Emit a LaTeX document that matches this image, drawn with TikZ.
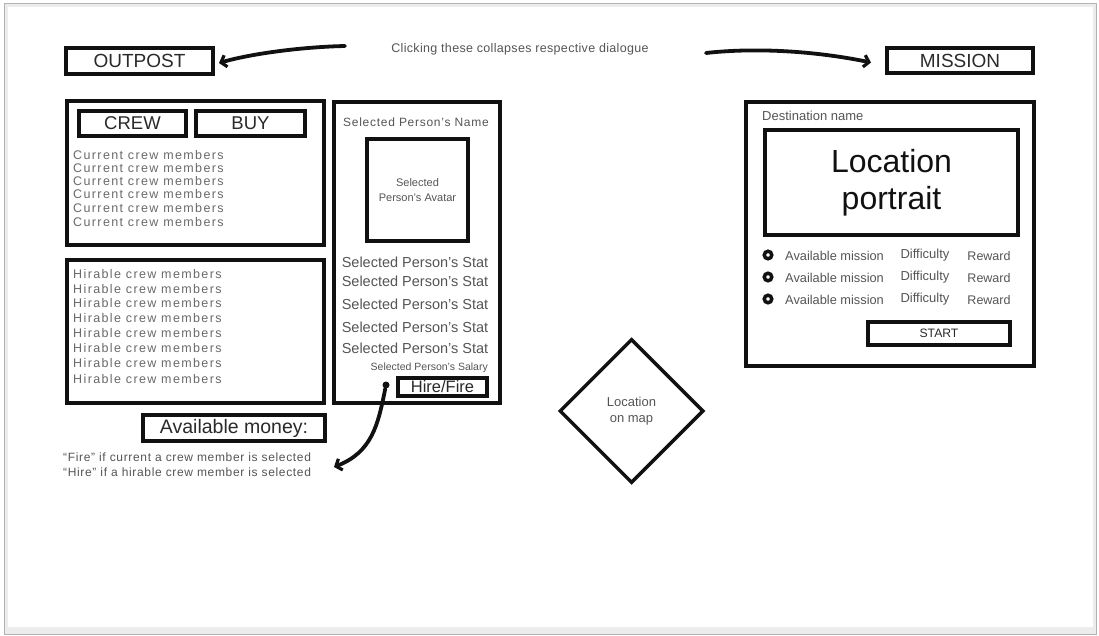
\documentclass[tikz,border=0pt]{standalone}
\usepackage{fontspec}
\setmainfont{Liberation Sans}
\newfontfamily\wideface[LetterSpace=11]{Liberation Sans}
\newfontfamily\looseface[LetterSpace=6]{Liberation Sans}
\newfontfamily\noteface[LetterSpace=5.5]{Liberation Sans}
\newfontfamily\hintface[LetterSpace=2.6]{Liberation Sans}
\usetikzlibrary{arrows.meta,shapes.geometric}
\definecolor{ink}{HTML}{111111}
\definecolor{txt}{HTML}{555555}
\definecolor{dim}{HTML}{6A6A6A}
\definecolor{dark}{HTML}{2A2A2A}
\newcommand\fsz[2]{\fontsize{#1}{#2}\selectfont}
\tikzset{
  panel/.style={draw=ink, line width=4pt, inner sep=0pt, rectangle},
  tab/.style={draw=ink, line width=3.5pt, inner sep=0pt, rectangle},
  lbl/.style={inner sep=0pt, text=txt},
  brush/.style={draw=ink, line width=3.8pt, line cap=round,
    -{Straight Barb[length=5pt,width=12pt,line width=3.2pt]}},
  radio/.style={draw=ink, line width=3.5pt, circle, inner sep=0pt, minimum size=7.5pt},
}
\begin{document}
\begin{tikzpicture}[x=1pt,y=-1pt]
\useasboundingbox (0,0) rectangle (1099,636);
% sheet with soft edge
\fill[gray!15] (4,4) rectangle (1096,634);
\fill[white] (8,7) rectangle (1093,627);
\draw[gray!60, line width=1pt] (4,4) rectangle (1096,634);

% header tabs
\node[panel, minimum width=147pt, minimum height=26pt, text=dark, font=\fsz{19}{19}] (outpost) at (139.5,61) {OUTPOST};
\node[panel, minimum width=146pt, minimum height=25pt, text=dark, font=\fsz{19}{19}] (mission) at (960,60.5) {MISSION};
\node[lbl, font=\hintface\fsz{12.5}{12.5}] (hint) at (520,49) {Clicking these collapses respective dialogue};
\coordinate (lstart) at (345,46);
\coordinate (rstart) at (706,53);
\draw[brush] (lstart) .. controls (300,47) and (250,54) .. ([xshift=4pt,yshift=-2pt]outpost.east);
\draw[brush] (rstart) .. controls (760,47) and (820,52) .. ([xshift=-14pt,yshift=-2pt]mission.west);

% crew panel
\node[panel, minimum width=257pt, minimum height=144pt] (crewpanel) at (195.5,173) {};
\node[tab, minimum width=107pt, minimum height=25pt, text=dark, font=\fsz{18.5}{18.5}] (crewtab) at (132.5,123.5) {CREW};
\node[tab, minimum width=109pt, minimum height=25pt, text=dark, font=\fsz{18.5}{18.5}] (buytab) at (250.5,123.5) {BUY};
\foreach \y [count=\i] in {155,168,181,194,208,222}
  \node[lbl, text=dim, anchor=west, font=\wideface\fsz{12.5}{12.5}] (cur\i) at (73,\y) {Current crew members};

% hirable panel
\node[panel, minimum width=257pt, minimum height=143pt] (hirepanel) at (195.5,331.5) {};
\foreach \y [count=\i] in {274,289,303,318,333,348,363,379}
  \node[lbl, text=dim, anchor=west, font=\wideface\fsz{12.5}{12.5}] (hir\i) at (73,\y) {Hirable crew members};

% selected person panel
\node[panel, minimum width=166pt, minimum height=301pt] (person) at (417,252.5) {};
\node[lbl, font=\looseface\fsz{12}{12}] (pname) at (416,122) {Selected Person’s Name};
\node[panel, minimum width=101pt, minimum height=102pt, text=txt, align=center, font=\fsz{11}{15}] (avatar) at (417.5,190) {Selected\\Person’s Avatar};
\foreach \y [count=\i] in {262,281,304,327,348}
  \node[lbl, font=\fsz{14.5}{14.5}] (stat\i) at (415,\y) {Selected Person’s Stat};
\node[lbl, anchor=east, font=\fsz{10.5}{10.5}] (salary) at (488,368) {Selected Person’s Salary};
\node[tab, minimum width=89pt, minimum height=18pt, text=dark, font=\fsz{16.5}{16.5}] (hirefire) at (442.5,387) {Hire/Fire};
\node[fill=ink, circle, inner sep=0pt, minimum size=7pt] (dot) at (386,385) {};

% money and note
\node[panel, minimum width=182pt, minimum height=26pt, text=dark, font=\fsz{19.5}{19.5}] (money) at (234,428) {Available money:};
\node[lbl, anchor=west, font=\noteface\fsz{12}{12}] (firenote) at (63,457) {“Fire” if current a crew member is selected};
\node[lbl, anchor=west, font=\noteface\fsz{12}{12}] (hirenote) at (63,472) {“Hire” if a hirable crew member is selected};
\coordinate (noteend) at (334,467);
\draw[brush] (dot) .. controls (378,425) and (372,452) .. (noteend);

% map marker
\node[diamond, aspect=1, draw=ink, line width=3.5pt, minimum width=144pt, minimum height=144pt, inner sep=0pt, text=txt, align=center, font=\fsz{13}{16}] (map) at (631.5,411) {Location\\on map};

% mission panel
\node[panel, minimum width=288pt, minimum height=264pt] (mpanel) at (890,234) {};
\node[lbl, anchor=west, font=\fsz{13}{13}] (dest) at (762,116) {Destination name};
\node[panel, minimum width=253pt, minimum height=105pt, text=ink, align=center, font=\fsz{32}{37}] (portrait) at (891.5,182.5) {Location\\portrait};
\foreach \y [count=\i] in {255,277,299} {
  \node[radio] (radio\i) at (768,\y) {};
  \node[lbl, anchor=west, font=\fsz{12.8}{12.8}] (avail\i) at (785,\y+1) {Available mission};
  \node[lbl, font=\fsz{13}{13}] (diff\i) at (925,\y) {Difficulty};
  \node[lbl, font=\fsz{12.5}{12.5}] (rew\i) at (989,\y+1) {Reward};
}
\node[tab, minimum width=142pt, minimum height=23pt, text=dark, font=\fsz{12.2}{12.2}] (start) at (939,333.5) {START};
\end{tikzpicture}
\end{document}
